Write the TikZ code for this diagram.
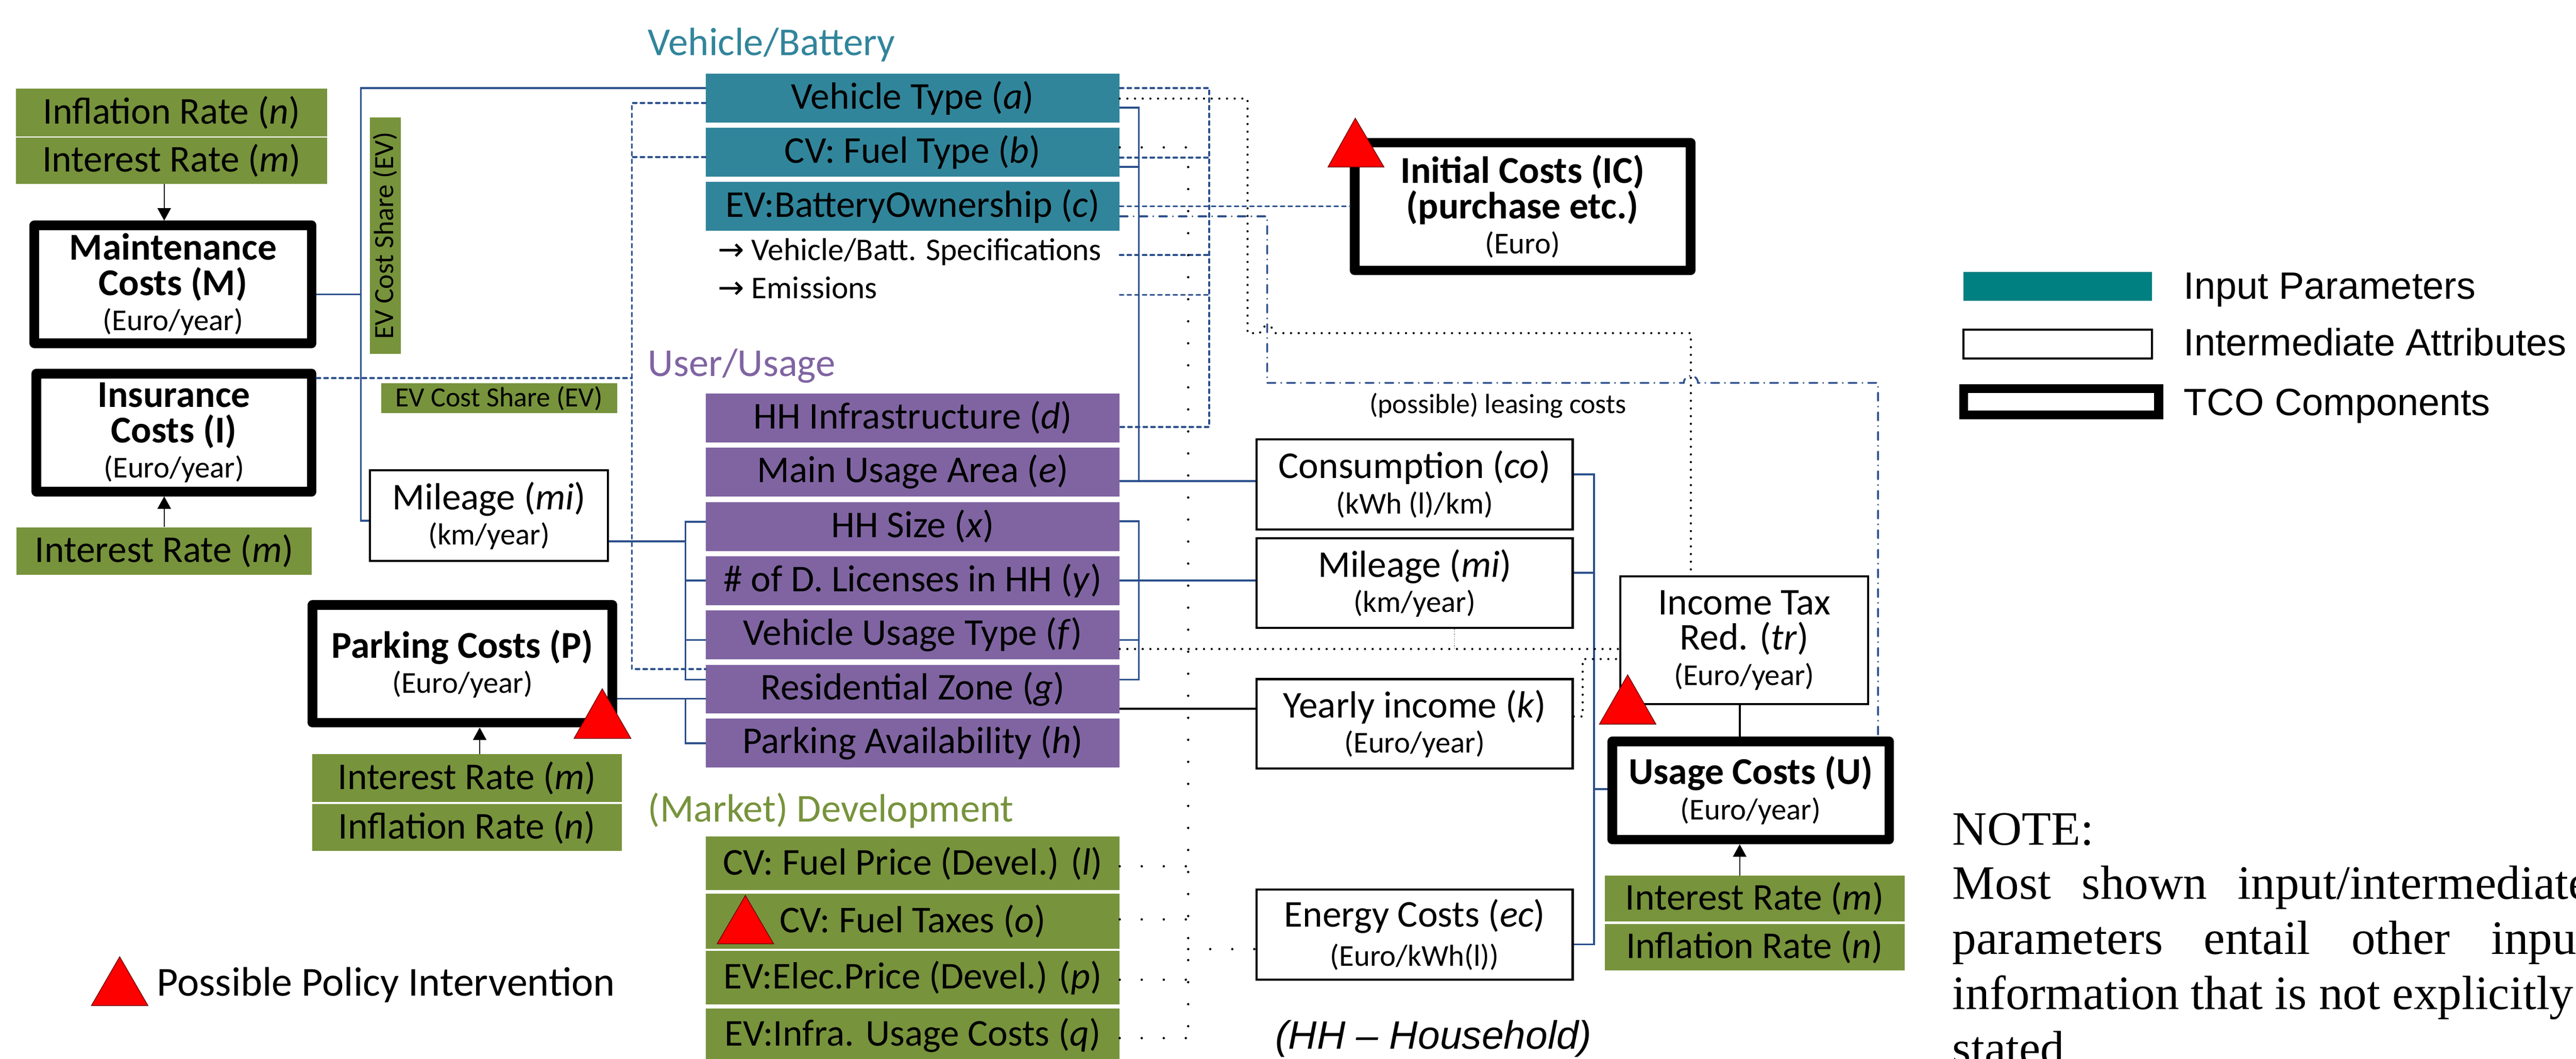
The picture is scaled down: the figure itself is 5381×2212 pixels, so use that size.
\documentclass[tikz,border=0pt]{standalone}
\usepackage{fontspec}
\setmainfont{Carlito}
\newfontfamily\legfont{Liberation Sans}
\newfontfamily\notefont{Liberation Serif}
\newfontfamily\arrfont{DejaVu Sans}
\usetikzlibrary{arrows.meta}
\definecolor{tealc}{RGB}{49,133,155}
\definecolor{purp}{RGB}{128,100,162}
\definecolor{grn}{RGB}{119,147,60}
\definecolor{lblue}{RGB}{44,80,140}
\definecolor{legteal}{RGB}{0,128,128}
\newcommand\myfs[1]{\fontsize{#1}{21}\selectfont}
\tikzset{
  bx/.style={inner sep=0pt, align=center, font=\myfs{22.5}},
  tbox/.style={bx, fill=tealc, minimum width=8.63cm, minimum height=1.02cm},
  pbox/.style={bx, fill=purp, minimum width=8.63cm, minimum height=1.02cm},
  gbox/.style={bx, fill=grn},
  mbox/.style={gbox, minimum width=8.63cm, minimum height=1.12cm},
  ibox/.style={bx, draw=black, line width=1.3pt, fill=white},
  tco/.style={bx, draw=black, line width=0.2cm, line join=round, fill=white, font=\myfs{22.5}\bfseries},
  bl/.style={draw=lblue, line width=1.1pt},
  blk/.style={draw=black, line width=1.3pt},
  dsh/.style={draw=lblue, line width=1.1pt, dash pattern=on 0.08cm off 0.08cm, line cap=round},
  dd/.style={draw=lblue, line width=1.1pt, dash pattern=on 0.17cm off 0.12cm on 0pt off 0.12cm, line cap=round},
  dotb/.style={draw=black, line width=1.3pt, dash pattern=on 0pt off 0.16cm, line cap=round},
  spd/.style={draw=black, line width=1.4pt, dash pattern=on 0pt off 0.46cm, line cap=round},
  arr/.style={draw=black, line width=0.6pt, -{Triangle[length=0.26cm,width=0.28cm]}},
  tri/.style={fill=red, draw=black!60!red, line width=0.4pt},
  ttl/.style={anchor=base west, inner sep=0pt, font=\myfs{23.5}},
}
\begin{document}
\begin{tikzpicture}[x=0.01cm,y=-0.01cm]
\useasboundingbox (0,0) rectangle (5381,2212);
\clip (0,0) rectangle (5381,2212);

% ---------- helper coordinates for routing ----------
\coordinate (a1) at (754,184);  \coordinate (a2) at (754,1088); \coordinate (a3) at (754,615);
\coordinate (b1) at (1320,215); \coordinate (b2) at (1320,1398); \coordinate (b3) at (1320,328); \coordinate (b4) at (1320,790);
\coordinate (c0) at (1432,1131); \coordinate (c1) at (1432,1090); \coordinate (c2) at (1432,1213);
\coordinate (c3) at (1432,1337); \coordinate (c4) at (1432,1420);
\coordinate (d1) at (1432,1460); \coordinate (d2) at (1432,1553);
\coordinate (e1) at (2379,225); \coordinate (e2) at (2379,349); \coordinate (e3) at (2379,1005);
\coordinate (f1) at (2379,1089); \coordinate (f2) at (2379,1213); \coordinate (f3) at (2379,1337); \coordinate (f4) at (2379,1420);
\coordinate (g1) at (2379,1481);
\coordinate (h1) at (3330,991); \coordinate (h2) at (3330,1197); \coordinate (h3) at (3330,1973); \coordinate (h4) at (3330,1649);
\coordinate (j1) at (2606,206); \coordinate (j2) at (2606,696); \coordinate (j3) at (3532,696);
\coordinate (k1) at (2400,1356);
\coordinate (l1) at (3306,1497); \coordinate (l2) at (3306,1377);
\coordinate (m1) at (3038,1356);
\coordinate (n1) at (2526,184); \coordinate (n2) at (2526,329); \coordinate (n3) at (2526,533); \coordinate (n4) at (2526,616); \coordinate (n5) at (2526,892);
\coordinate (o1) at (2400,431);
\coordinate (p1) at (2647,452); \coordinate (p2) at (2647,800); \coordinate (p3) at (3923,800);
\coordinate (q1) at (2482,308); \coordinate (q2) at (2482,2169);
\coordinate (r1) at (2482,1810); \coordinate (r2) at (2482,1921); \coordinate (r3) at (2482,2047); \coordinate (r5) at (2482,1983);
\coordinate (ax1) at (343,0); \coordinate (ax3) at (1002,0); \coordinate (ax4) at (3634,0);

% ---------- titles ----------
\node[ttl, text=tealc] (tvb) at (1353,116) {Vehicle/Battery};
\node[ttl, text=purp] (tuu) at (1353,786) {User/Usage};
\node[ttl, text=grn] (tmd) at (1353,1717) {(Market) Development};

% ---------- input parameter boxes ----------
\node[tbox] (vt) at (1906.5,205) {Vehicle Type (\textit{a})};
\node[tbox] (cvft) at (1906.5,318) {CV: Fuel Type (\textit{b})};
\node[tbox] (evbo) at (1906.5,431) {EV:BatteryOwnership (\textit{c})};
\node[anchor=base west, inner sep=0pt, font=\myfs{18.8}] (specs) at (1499,544) {{\arrfont →} Vehicle/Batt. Specifications};
\node[anchor=base west, inner sep=0pt, font=\myfs{18.8}] (emis) at (1499,624) {{\arrfont →} Emissions};

\node[pbox] (hhi) at (1906.5,873) {HH Infrastructure (\textit{d})};
\node[pbox] (mua) at (1906.5,986) {Main Usage Area (\textit{e})};
\node[pbox] (hhs) at (1906.5,1100) {HH Size (\textit{x})};
\node[pbox] (lic) at (1906.5,1213) {\# of D. Licenses in HH (\textit{y})};
\node[pbox] (vut) at (1906.5,1326) {Vehicle Usage Type (\textit{f})};
\node[pbox] (rz) at (1906.5,1440) {Residential Zone (\textit{g})};
\node[pbox] (pa) at (1906.5,1552) {Parking Availability (\textit{h})};

\node[mbox] (fp) at (1906.5,1804) {CV: Fuel Price (Devel.) (\textit{l})};
\node[mbox, minimum height=1.15cm] (ft) at (1906.5,1924.5) {CV: Fuel Taxes (\textit{o})};
\node[mbox] (ep) at (1906.5,2043) {EV:Elec.Price (Devel.) (\textit{p})};
\node[mbox] (iu) at (1906.5,2163) {EV:Infra. Usage Costs (\textit{q})};

% left / other green boxes
\node[gbox, minimum width=6.49cm, minimum height=1.00cm] (infl1) at (358.5,235) {Inflation Rate (\textit{n})};
\node[gbox, minimum width=6.49cm, minimum height=0.97cm] (int1) at (358.5,335.5) {Interest Rate (\textit{m})};
\node[gbox, minimum width=6.16cm, minimum height=0.99cm] (int2) at (343,1151.5) {Interest Rate (\textit{m})};
\node[gbox, minimum width=6.47cm, minimum height=1.00cm] (int3) at (975.5,1626) {Interest Rate (\textit{m})};
\node[gbox, minimum width=6.47cm, minimum height=0.98cm] (infl3) at (975.5,1729) {Inflation Rate (\textit{n})};
\node[gbox, minimum width=6.26cm, minimum height=0.95cm] (int4) at (3665,1877.5) {Interest Rate (\textit{m})};
\node[gbox, minimum width=6.26cm, minimum height=0.96cm] (infl4) at (3665,1979) {Inflation Rate (\textit{n})};
\node[gbox, rotate=90, minimum width=4.93cm, minimum height=0.64cm, font=\myfs{16.5}] (evcsv) at (805,492.5) {EV Cost Share (EV)};
\node[gbox, minimum width=4.93cm, minimum height=0.62cm, font=\myfs{16.5}] (evcsh) at (1042.5,832) {EV Cost Share (EV)};

% ---------- TCO components ----------
\node[tco, minimum width=5.79cm, minimum height=2.46cm] (maint) at (361.5,594) {Maintenance\\Costs (M)\\\mdseries\myfs{18}(Euro/year)};
\node[tco, minimum width=5.75cm, minimum height=2.46cm] (ins) at (363.5,904) {Insurance\\Costs (I)\\\mdseries\myfs{18}(Euro/year)};
\node[tco, minimum width=6.26cm, minimum height=2.46cm] (park) at (966,1387) {Parking Costs (P)\\\mdseries\myfs{18}(Euro/year)};
\node[tco, minimum width=7.01cm, minimum height=2.67cm] (ic) at (3180.5,431.5) {Initial Costs (IC)\\(purchase etc.)\\\mdseries\myfs{18}(Euro)};
\node[tco, minimum width=5.78cm, minimum height=2.05cm] (usage) at (3657,1651.5) {Usage Costs (U)\\\mdseries\myfs{18}(Euro/year)};

% ---------- intermediate attributes ----------
\node[ibox, minimum width=4.97cm, minimum height=1.89cm] (mil1) at (1021.5,1077.5) {Mileage (\textit{mi})\\\myfs{18}(km/year)};
\node[ibox, minimum width=6.60cm, minimum height=1.88cm] (cons) at (2955,1012) {Consumption (\textit{co})\\\myfs{18}(kWh (l)/km)};
\node[ibox, minimum width=6.60cm, minimum height=1.87cm] (mil2) at (2955,1218.5) {Mileage (\textit{mi})\\\myfs{18}(km/year)};
\node[ibox, minimum width=6.60cm, minimum height=1.87cm] (yi) at (2955,1512.5) {Yearly income (\textit{k})\\\myfs{18}(Euro/year)};
\node[ibox, minimum width=6.60cm, minimum height=1.88cm] (ec) at (2955,1953) {Energy Costs (\textit{ec})\\[2pt]\myfs{18}(Euro/kWh(l))};
\node[ibox, minimum width=5.17cm, minimum height=2.67cm] (itr) at (3643.5,1337.5) {Income Tax\\Red. (\textit{tr})\\\myfs{18}(Euro/year)};

% ---------- connectors ----------
% solid blue
\draw[bl] (vt.west |- a1) -- (a1) -- (a2) -- (a2 -| mil1.west);
\draw[bl] (maint.east |- a3) -- (a3);
\draw[bl] (mil1.east |- c0) -- (c0);
\draw[bl] (c1 -| hhs.west) -- (c1) -- (c4) -- (c4 -| rz.west);
\draw[bl] (c2) -- (c2 -| lic.west);
\draw[bl] (c3) -- (c3 -| vut.west);
\draw[bl] (park.east |- d1) -- (d1 -| rz.west);
\draw[bl] (d1) -- (d2) -- (d2 -| pa.west);
\draw[bl] (e1 -| vt.east) -- (e1) -- (e3);
\draw[bl] (e2 -| cvft.east) -- (e2);
\draw[bl] (e3 -| mua.east) -- (e3 -| cons.west);
\draw[bl] (f1 -| hhs.east) -- (f1) -- (f4) -- (f4 -| rz.east);
\draw[bl] (f3 -| vut.east) -- (f3);
\draw[bl] (f2 -| lic.east) -- (f2 -| mil2.west);
\draw[bl] (h1 -| cons.east) -- (h1) -- (h3) -- (h3 -| ec.east);
\draw[bl] (h2 -| mil2.east) -- (h2);
\draw[bl] (h4) -- (h4 -| usage.west);
% solid black
\draw[blk] (g1 -| rz.east) -- (g1 -| yi.west);
\draw[blk] (itr.south -| ax4) -- (usage.north -| ax4);
% dashed blue
\draw[dsh] (vt.west |- b1) -- (b1) -- (b2) -- (b2 -| rz.west);
\draw[dsh] (cvft.west |- b3) -- (b3);
\draw[dsh] (ins.east |- b4) -- (b4);
\draw[dsh] (n1 -| vt.east) -- (n1) -- (n5) -- (n5 -| hhi.east);
\draw[dsh] (n2 -| cvft.east) -- (n2);
\draw[dsh] (n3 -| evbo.east) -- (n3);
\draw[dsh] (n4 -| evbo.east) -- (n4);
\draw[dsh] (o1 -| evbo.east) -- (o1 -| ic.west);
% dash-dotted blue (leasing costs)
\draw[dd] (p1 -| evbo.east) -- (p1) -- (p2) -- (3517,800) .. controls (3519,780) and (3545,780) .. (3547,800) -- (p3) -- (p3 |- usage.north);
\node[font=\myfs{16.5}, anchor=base, inner sep=0pt] (lease) at (3129,864) {(possible) leasing costs};
% dense dotted black
\draw[dotb] (j1 -| vt.east) -- (j1) -- (j2) -- (2632,696) .. controls (2634,676) and (2660,676) .. (2662,696) -- (j3) -- (j3 |- itr.north);
\draw[dotb] (k1 -| vut.east) -- (k1 -| itr.west);
\draw[dotb] (l1 -| yi.east) -- (l1) -- (l2) -- (l2 -| itr.west);
\draw[gray, line width=0.4pt, densely dotted] (m1 |- mil2.south) -- (m1);
% sparse dotted black
\draw[spd] (q1 -| cvft.east) -- (q1) -- (q2);
\draw[spd] (r1 -| fp.east) -- (r1);
\draw[spd] (r2 -| ft.east) -- (r2);
\draw[spd] (r3 -| ep.east) -- (r3);
\draw[spd] (q2 -| iu.east) -- (q2);
\draw[spd] (r5) -- (r5 -| ec.west);
% arrows
\draw[arr] (int1.south -| ax1) -- (maint.north -| ax1);
\draw[arr] (int2.north -| ax1) -- (ins.south -| ax1);
\draw[arr] (int3.north -| ax3) -- (park.south -| ax3);
\draw[arr] (int4.north -| ax4) -- (usage.south -| ax4);

% ---------- policy triangles ----------
\draw[tri] (2831,247) -- (2891,349) -- (2774,349) -- cycle;
\draw[tri] (1258,1439) -- (1318,1543) -- (1199,1543) -- cycle;
\draw[tri] (3400,1410) -- (3459,1513) -- (3341,1513) -- cycle;
\draw[tri] (1557,1871) -- (1616,1972) -- (1498,1972) -- cycle;
\draw[tri] (250,1999) -- (309,2101) -- (191,2101) -- cycle;
\node[anchor=base west, inner sep=0pt, font=\myfs{24.5}] (ppi) at (327,2081) {Possible Policy Intervention};

% ---------- HH note ----------
\node[anchor=base west, inner sep=0pt, font=\legfont\itshape\fontsize{23.5}{26}\selectfont] (hh) at (2663,2192) {(HH – Household)};

% ---------- legend ----------
\node[inner sep=0pt, fill=legteal, minimum width=3.94cm, minimum height=0.61cm] (lg1) at (4298,598.5) {};
\node[inner sep=0pt, draw=black, line width=1.2pt, minimum width=3.94cm, minimum height=0.60cm] (lg2) at (4298,719) {};
\node[inner sep=0pt, draw=black, line width=0.19cm, minimum width=4.07cm, minimum height=0.55cm] (lg3) at (4305.5,839.5) {};
\node[anchor=base west, inner sep=0pt, font=\legfont\fontsize{22.6}{26}\selectfont] (lt1) at (4561,625) {Input Parameters};
\node[anchor=base west, inner sep=0pt, font=\legfont\fontsize{22.6}{26}\selectfont] (lt2) at (4561,743) {Intermediate Attributes};
\node[anchor=base west, inner sep=0pt, font=\legfont\fontsize{22.6}{26}\selectfont] (lt3) at (4561,868) {TCO Components};

% ---------- NOTE ----------
\node[anchor=base west, inner sep=0pt, font=\notefont\fontsize{28.5}{32.7}\selectfont] (note) at (4078,1765) {NOTE:};
\node[anchor=base west, inner sep=0pt, align=left, font=\notefont\fontsize{28.5}{32.7}\selectfont] (notetxt) at (4078,2224)
  {\makebox[13.3cm][s]{Most shown input/intermediate}\\
   \makebox[13.3cm][s]{parameters entail other input}\\
   information that is not explicitly\\
   stated.};
\end{tikzpicture}
\end{document}
